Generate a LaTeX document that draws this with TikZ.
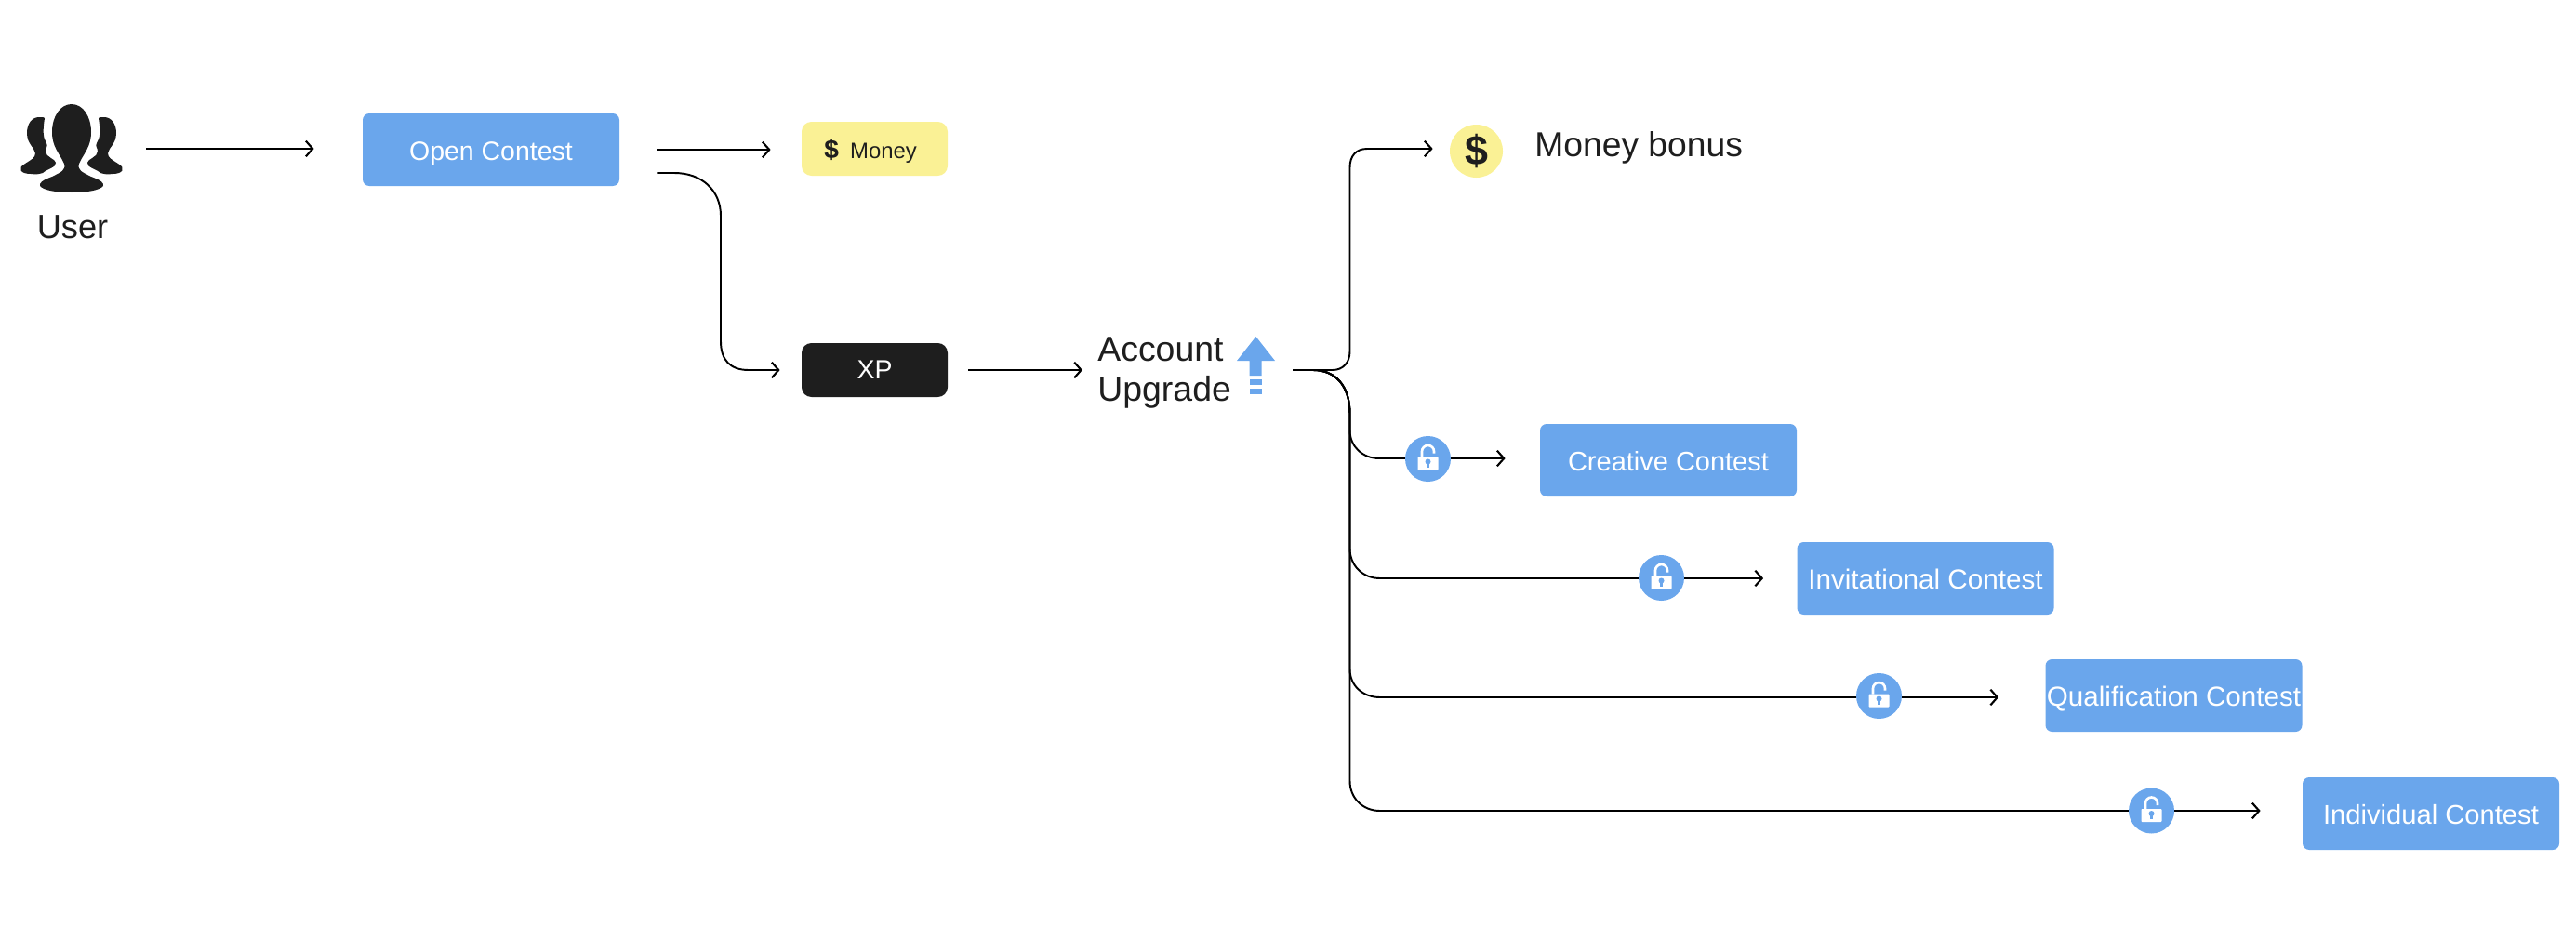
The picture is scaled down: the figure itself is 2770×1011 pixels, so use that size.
\documentclass[tikz,border=0pt]{standalone}
\usepackage{fontspec}
\setmainfont{Liberation Sans}
\usetikzlibrary{arrows.meta}
\definecolor{cblue}{HTML}{6AA6EC}
\definecolor{cyellow}{HTML}{FAF195}
\definecolor{cdark}{HTML}{1E1E1E}
\def\px{0.02cm}
\newcommand{\figsidepath}{%
  \fill[cdark] (44,126) .. controls (33,125) and (29,135) .. (29,143)
      .. controls (29,155) and (37,158) .. (38,165)
      .. controls (38,170) and (33,172) .. (27,176)
      .. controls (18,181) and (22,187) .. (33,187)
      .. controls (38,188) and (43,187) .. (46,186)
      .. controls (50,182) and (61,180) .. (60,175)
      .. controls (60,171) and (49,169) .. (49,163)
      .. controls (49,158) and (52,158) .. (50,154)
      .. controls (46,148) and (46,140) .. (48,127)
      .. controls (47,126) and (46,126) .. (44,126) -- cycle;}
\tikzset{
  conn/.style={draw=black,line width=1.1pt,-{Straight Barb[length=4.2pt,width=9.5pt,line width=1.2pt]}},
  basebox/.style={rectangle,rounded corners=4pt,inner sep=0pt,text depth=0pt},
  contest/.style={basebox,fill=cblue,text=white,minimum width=276*\px,minimum height=78*\px,text height=13.6pt,font=\fontsize{#1}{18pt}\selectfont},
  contest/.default=16.2pt,
  reward/.style={basebox,minimum width=157*\px,minimum height=58*\px,rounded corners=6pt},
  lockdisc/.style={circle,fill=cblue,minimum size=49*\px,inner sep=0pt},
  lbl/.style={text=cdark,inner sep=0pt},
  lockicon/.pic={
    \fill[white,rounded corners=0.5pt] (-11,-2) rectangle (11,12);
    \draw[white,line width=1.5pt] (-6.5,-2) -- (-6.5,-8) arc[start angle=180,end angle=360,x radius=6.5,y radius=6.5] -- (6.5,-6);
    \fill[cblue] (0,3) circle[radius=3];
    \fill[cblue] (-1.2,3) rectangle (1.2,9);
  }
}
\begin{document}
\begin{tikzpicture}[x=0.02cm,y=-0.02cm]
\path[use as bounding box] (0,0) rectangle (2770,1011);

% user icon
\node[inner sep=0pt,minimum width=111*\px,minimum height=96*\px] (user) at (77,160) {};
\figsidepath
\begin{scope}[shift={(154,0)},xscale=-1]
\figsidepath
\end{scope}
\fill[cdark] (77,112) .. controls (65,112) and (56,125) .. (56,142)
  .. controls (56,158) and (64,165) .. (69,176)
  .. controls (71,183) and (66,185) .. (56,190)
  .. controls (45,194) and (42,197) .. (43,200)
  .. controls (47,205) and (62,207) .. (77,207)
  .. controls (92,207) and (107,205) .. (111,200)
  .. controls (112,197) and (109,194) .. (98,190)
  .. controls (88,185) and (83,183) .. (85,176)
  .. controls (90,165) and (98,158) .. (98,142)
  .. controls (98,125) and (89,112) .. (77,112) -- cycle;
\node[lbl,anchor=base,font=\fontsize{20.6pt}{24pt}\selectfont] (userlabel) at (78,256) {User};

% boxes
\node[contest] (open) at (528,161) {Open Contest};
\node[reward,fill=cyellow,text=cdark,text height=12.5pt,font=\fontsize{13.6pt}{16pt}\selectfont] (money) at (940.5,160)
  {{\fontsize{16pt}{16pt}\selectfont\bfseries\$}\kern 7pt Money\kern 5pt};
\node[reward,fill=cdark,text=white,text height=11.3pt,font=\fontsize{16.2pt}{18pt}\selectfont] (xp) at (940.5,398) {XP};
\node[contest=16.5pt] (creative) at (1794,495) {Creative Contest};
\node[contest=16.9pt] (invit) at (2070.5,622) {Invitational Contest};
\node[contest=16.85pt] (qual) at (2337.5,748) {Qualification Contest};
\node[contest=16.6pt] (indiv) at (2614,875) {Individual Contest};

% account upgrade
\node[lbl,anchor=west,align=left,font=\fontsize{21.3pt}{24.4pt}\selectfont] (account) at (1180,401) {Account\\Upgrade};
\fill[cblue] (1350.5,362) -- (1371,388) -- (1356.5,388) -- (1356.5,404) -- (1343.5,404) -- (1343.5,388) -- (1330,388) -- cycle;
\fill[cblue] (1343.5,408) rectangle (1356.5,414);
\fill[cblue] (1343.5,418) rectangle (1356.5,424);
\coordinate (hub) at (1390,398);

% bonus
\node[circle,fill=cyellow,minimum size=57*\px,inner sep=0pt,text=cdark,font=\fontsize{25.5pt}{26pt}\selectfont\bfseries] (bonus) at (1587.5,162.5) {\$};
\node[lbl,anchor=base west,font=\fontsize{21.2pt}{24pt}\selectfont] (bonuslabel) at (1650,168) {Money bonus};

% y levels of the connectors
\coordinate (yb) at (0,160);
\coordinate (y1) at (0,493);
\coordinate (y2) at (0,622);
\coordinate (y3) at (0,750);
\coordinate (y4) at (0,872);

% connectors
\draw[conn,shorten <=80*\px,shorten >=52*\px] (user.center) -- (user.center -| open.west);
\draw[conn,shorten <=41*\px,shorten >=33*\px] (open.east) -- (open.east -| money.west);
\draw[conn,shorten >=23*\px] ([shift={(41,25)}]open.east) -- (725,186) .. controls (755,186) and (775,205) .. (775,232)
   -- (775,367) .. controls (775,387) and (785,398) .. (805,398) -- (xp.west);
\draw[conn,shorten <=22*\px,shorten >=16*\px] (xp.east) -- (xp.east -| account.west);
\draw[conn,shorten >=18*\px] (hub) -- (1433,398) .. controls (1444,398) and (1451.5,390) .. (1451.5,378) -- (1451.5,180)
   .. controls (1451.5,168) and (1458,160) .. (1470,160) -- (bonus.west |- yb);
\draw[conn,shorten >=37*\px] (hub) -- (1412,398) .. controls (1436,398) and (1451.5,415) .. (1451.5,445) -- (1451.5,463)
   .. controls (1451.5,480) and (1465,493) .. (1483,493) -- (creative.west |- y1);
\draw[conn,shorten >=36*\px] (hub) -- (1412,398) .. controls (1436,398) and (1451.5,415) .. (1451.5,445) -- (1451.5,590)
   .. controls (1451.5,608) and (1465,622) .. (1484,622) -- (invit.west |- y2);
\draw[conn,shorten >=50*\px] (hub) -- (1412,398) .. controls (1436,398) and (1451.5,415) .. (1451.5,445) -- (1451.5,720)
   .. controls (1451.5,737) and (1465,750) .. (1484,750) -- (qual.west |- y3);
\draw[conn,shorten >=45*\px] (hub) -- (1412,398) .. controls (1436,398) and (1451.5,415) .. (1451.5,445) -- (1451.5,840)
   .. controls (1451.5,858) and (1465,872) .. (1484,872) -- (indiv.west |- y4);

% locks
\node[lockdisc] (lock1) at (1535.5,493.5) {};
\node[lockdisc] (lock2) at (1786.5,621.5) {};
\node[lockdisc] (lock3) at (2020.5,748.5) {};
\node[lockdisc] (lock4) at (2313.5,872) {};
\pic at (lock1) {lockicon};
\pic at (lock2) {lockicon};
\pic at (lock3) {lockicon};
\pic at (lock4) {lockicon};
\end{tikzpicture}
\end{document}
